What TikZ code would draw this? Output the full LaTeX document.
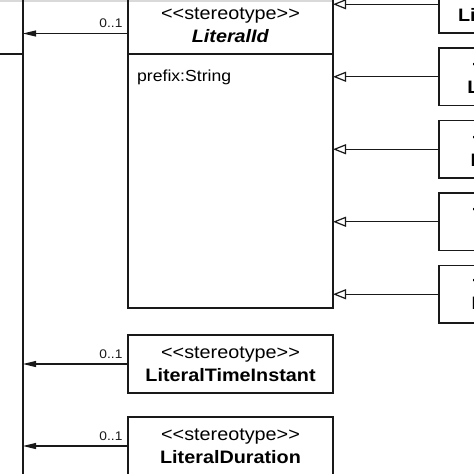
\documentclass[tikz,border=0pt]{standalone}
\usepackage{fontspec}
\setmainfont{Liberation Sans}[FakeStretch=1.1]
\usetikzlibrary{arrows.meta,positioning}

\newcommand\stereotag{<\kern0pt<stereotype>\kern0pt>}

\tikzset{
  classhead/.style={draw=black!90, line width=1.2pt, minimum width=205pt,
    minimum height=58pt, inner sep=0pt, outer sep=0pt, align=center,
    font=\fontsize{18}{23}\selectfont},
  classbody/.style={draw=black!90, line width=1.2pt, minimum width=205pt,
    inner sep=0pt, outer sep=0pt},
  attr/.style={anchor=north west, inner sep=0pt, font=\fontsize{16}{19}\selectfont},
  mult/.style={above left, inner sep=0pt, xshift=-5pt, yshift=5pt,
    font=\fontsize{12.5}{14}\selectfont},
  assoc/.style={color=black!90, line width=1.2pt, -{Triangle[length=13pt,width=6pt]}},
  generalise/.style={color=black!90, line width=1.2pt, -{Triangle[open,length=13pt,width=10pt]}}
}

\begin{document}
\begin{tikzpicture}[x=1pt,y=1pt]
  \useasboundingbox (0,0) rectangle (474,-474);
  \fill[black!15] (0,0) rectangle (333,-2);

  % class on the left, cut off
  \node[classhead, minimum width=203pt] (lefthead) at (-78.5,-25) {};
  \node[classbody, minimum width=203pt, minimum height=450pt] (leftbody) [below=0pt of lefthead] {};

  % LiteralId
  \node[classhead] (lidhead) at (230.5,-25) {\stereotag\\\textbf{\textit{LiteralId}}};
  \node[classbody, minimum height=254pt] (lidbody) [below=0pt of lidhead] {};
  \node[attr] (lidattr) at ([xshift=9pt,yshift=-16pt]lidbody.north west) {prefix:String};

  \node[classhead] (timeinst) [below=27pt of lidbody] {\stereotag\\\textbf{LiteralTimeInstant}};
  \node[classhead] (duration) [below=24pt of timeinst] {\stereotag\\\textbf{LiteralDuration}};

  % subclasses on the right, cut off
  \node[classhead, minimum height=57.5pt] (period) at (541.5,-4.25) {\stereotag\\\textbf{LiteralTimePeriod}};
  \node[classhead, minimum height=57.5pt] (datetime) [below=15pt of period] {\stereotag\\\textbf{LiteralDateTime}};
  \node[classhead, minimum height=57.5pt] (location) [below=15pt of datetime] {\stereotag\\\textbf{LiteralLocation}};
  \node[classhead, minimum height=57.5pt] (value) [below=15pt of location] {\stereotag\\\textbf{LiteralValue}};
  \node[classhead, minimum height=57.5pt] (quantity) [below=15pt of value] {\stereotag\\\textbf{LiteralQuantity}};

  \coordinate (lidend) at ([yshift=-8.5pt]lidhead.west);
  \path[assoc]
  (lidend) edge node[mult, pos=0] {0..1} (lidend -| leftbody.east)
  (timeinst.west) edge node[mult, pos=0] {0..1} (timeinst.west -| leftbody.east)
  (duration.west) edge node[mult, pos=0] {0..1} (duration.west -| leftbody.east);

  \path[generalise]
  (period.west) edge (period.west -| lidhead.east)
  (datetime.west) edge (datetime.west -| lidbody.east)
  (location.west) edge (location.west -| lidbody.east)
  (value.west) edge (value.west -| lidbody.east)
  (quantity.west) edge (quantity.west -| lidbody.east);
\end{tikzpicture}
\end{document}
